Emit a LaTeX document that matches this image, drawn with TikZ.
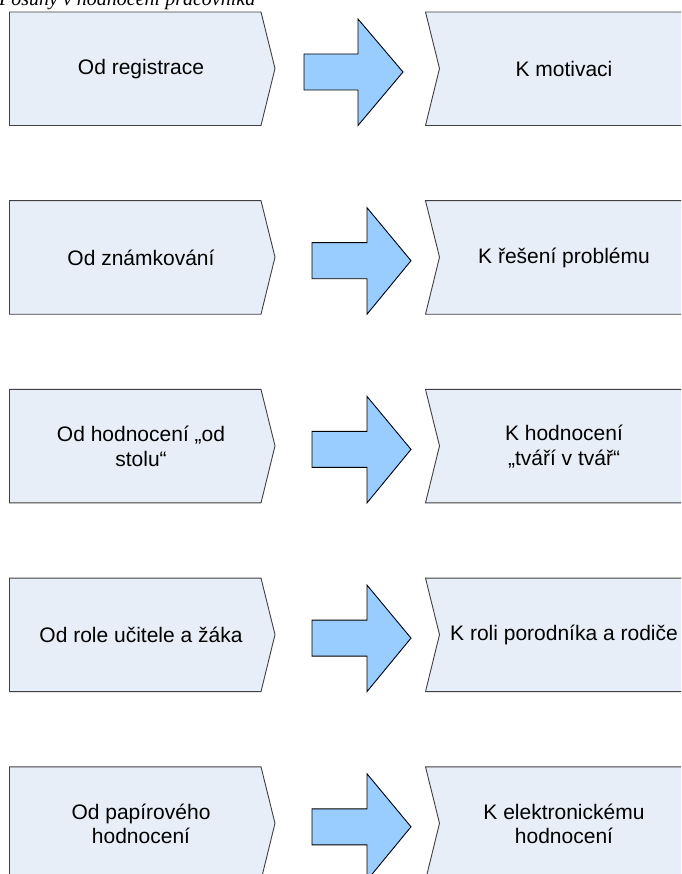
\documentclass[tikz,border=0pt]{standalone}
\usepackage{fontspec}
\setmainfont{Liberation Sans}
\newfontfamily\titlefont{Liberation Serif}
\definecolor{boxfill}{HTML}{E8EEF8}
\definecolor{boxline}{HTML}{404040}
\definecolor{arrfill}{HTML}{99CCFF}
\tikzset{
  chevbox/.style={fill=boxfill,draw=boxline,line width=0.9pt,line join=miter},
  bigarrow/.style={fill=arrfill,draw=black,line width=0.9pt,line join=miter},
  boxtext/.style={align=center,text=black,font=\fontsize{21}{24.5}\selectfont,inner sep=0pt},
}
\begin{document}
\begin{tikzpicture}[x=1pt,y=-1pt]
\useasboundingbox (0,0) rectangle (681,874);
\clip (0,0) rectangle (681,874);
\node[anchor=base west,inner sep=0pt,font=\titlefont\itshape\fontsize{20}{24}\selectfont] (title) at (-1,6) {Posuny v hodnocení pracovníka};
\foreach \i/\t/\ax/\bx/\cx/\la/\ra in {
  1/12/304/358/403/{Od registrace}/{K motivaci},
  2/200.7/312/367/411/{Od známkování}/{K řešení problému},
  3/389.4/312/367/411/{Od hodnocení „od\\stolu“}/{K hodnocení\\„tváří v tvář“},
  4/578.1/312/367/411/{Od role učitele a žáka}/{K roli porodníka a rodiče},
  5/766.8/312/367/411/{Od papírového\\hodnocení}/{K elektronickému\\hodnocení}} {
  \draw[chevbox] (9.5,\t) -- (261,\t) -- (275,\t+56.5) -- (261,\t+113.5) -- (9.5,\t+113.5) -- cycle;
  \draw[chevbox] (425.5,\t) -- (740,\t) -- (740,\t+113.5) -- (425.5,\t+113.5) -- (439.5,\t+56.5) -- cycle;
  \draw[bigarrow] (\ax,\t+42) -- (\bx,\t+42) -- (\bx,\t+7) -- (\cx,\t+60) -- (\bx,\t+113.5) -- (\bx,\t+78) -- (\ax,\t+78) -- cycle;
  \node[boxtext] (from\i) at (141,\t+57) {\la};
  \node[boxtext] (to\i) at (564,\t+57) {\ra};
}
\end{tikzpicture}
\end{document}
